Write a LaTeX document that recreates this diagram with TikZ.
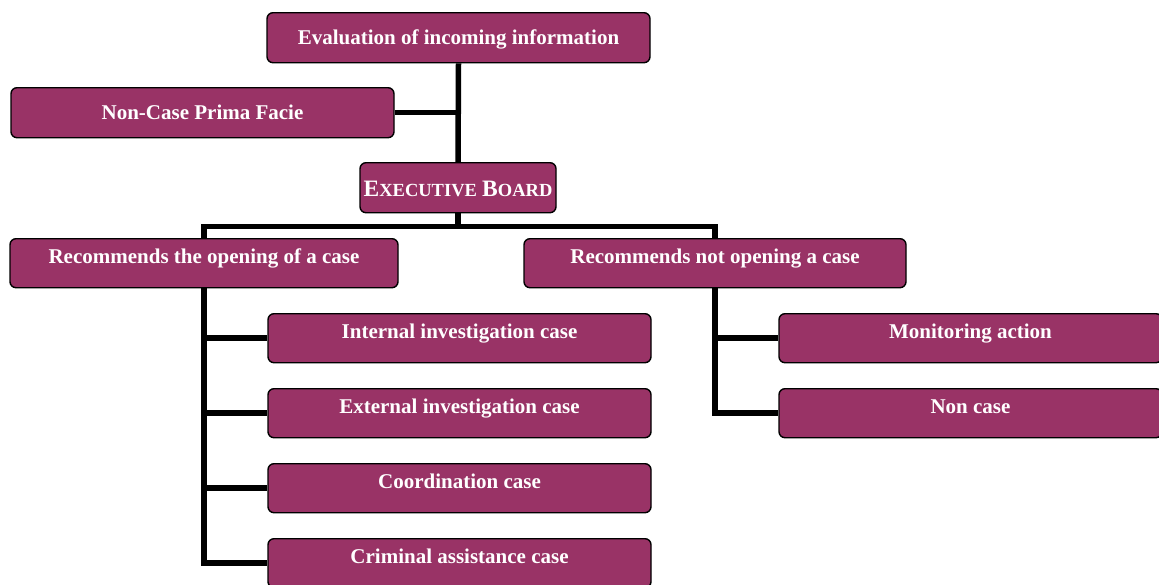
\documentclass[tikz,border=0pt]{standalone}
\usepackage{fontspec}
\setmainfont{Liberation Serif}
\usetikzlibrary{calc}
\definecolor{boxfill}{HTML}{993366}
\begin{document}
\begin{tikzpicture}[x=1pt,y=-1pt,
  box/.style={draw=black, line width=1.4pt, fill=boxfill, rounded corners=6pt,
    text=white, font=\bfseries\fontsize{21}{25}\selectfont,
    inner xsep=0pt, inner ysep=0pt, anchor=north, minimum width=383pt},
  topbox/.style={box, text height=25pt, text depth=24pt},
  midbox/.style={box, text height=32pt, text depth=18pt},
  conn/.style={line width=5.5pt, line join=miter, black}]
\useasboundingbox (0,0) rectangle (1159,584);
\fill[white] (0,0) rectangle (1159,584);

\node[midbox] (eval) at (458.5,12) {Evaluation of incoming information};
\node[midbox] (prima) at (202.5,87) {Non-Case Prima Facie};
\node[box, minimum width=196pt, text height=34pt, text depth=16pt] (exec) at (458,162)
  {{\fontsize{23.5}{28}\selectfont E}{\fontsize{18.5}{22}\selectfont XECUTIVE}
   {\fontsize{23.5}{28}\selectfont B}{\fontsize{18.5}{22}\selectfont OARD}};
\node[topbox, minimum width=388pt] (open) at (204,238) {Recommends the opening of a case};
\node[topbox, minimum width=382pt] (notopen) at (715,238) {Recommends not opening a case};
\node[topbox] (internal) at (459.5,313) {Internal investigation case};
\node[topbox] (external) at (459.5,388) {External investigation case};
\node[topbox] (coord) at (459.5,463) {Coordination case};
\node[topbox] (criminal) at (459.5,538) {Criminal assistance case};
\node[topbox] (monitor) at (970.5,313) {Monitoring action};
\node[topbox] (noncase) at (970.5,388) {Non case};

\coordinate (bus) at ($(exec.south)+(0,13)$);
\draw[conn] (eval.south) -- (exec.north);
\draw[conn] (prima.east) -- (prima.east -| eval.south);
\draw[conn] (exec.south) -- (bus);
\draw[conn] (open.north) |- (bus) -| (notopen.north);
\draw[conn] (open.south) |- (criminal.west);
\draw[conn] (open.south |- internal.west) -- (internal.west);
\draw[conn] (open.south |- external.west) -- (external.west);
\draw[conn] (open.south |- coord.west) -- (coord.west);
\draw[conn] (notopen.south) |- (noncase.west);
\draw[conn] (notopen.south |- monitor.west) -- (monitor.west);
\end{tikzpicture}
\end{document}
